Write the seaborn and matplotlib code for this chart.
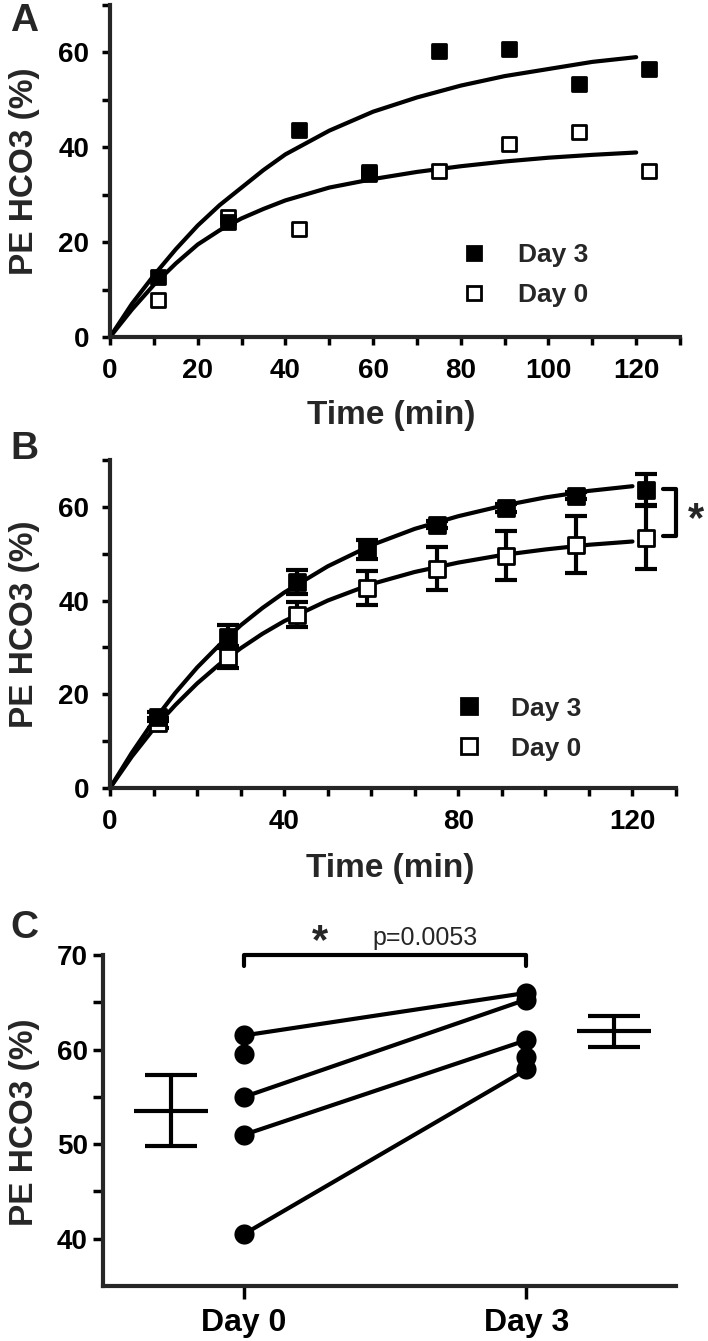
import numpy as np
import pandas as pd
import matplotlib
matplotlib.use("Agg")
import matplotlib.pyplot as plt
from matplotlib.lines import Line2D
import seaborn as sns

# ============================================
# DATA
# ============================================

# panel A - single experiment
a_time = [11, 27, 43, 59, 75, 91, 107, 123]
a_day3 = [12.6, 24.2, 43.6, 34.7, 60.2, 60.7, 53.3, 56.5]
a_day0 = [7.9, 25.4, 22.8, 34.4, 35.1, 40.6, 43.2, 35.1]

curve_time = [0, 5, 10, 15, 20, 25, 30, 35, 40, 50, 60, 70, 80, 90, 100, 110, 120]
a_fit_day3 = [0, 7.0, 13.0, 18.5, 23.5, 27.8, 31.5, 35.2, 38.5, 43.5, 47.5,
              50.5, 53.0, 55.0, 56.5, 58.0, 59.0]
a_fit_day0 = [0, 5.8, 11.0, 15.5, 19.5, 22.5, 25.0, 27.0, 28.8, 31.5, 33.3,
              34.8, 36.0, 37.0, 37.8, 38.4, 38.9]

# panel B - mean +/- SEM
b_time = [11, 27, 43, 59, 75, 91, 107, 123]
b_day3_mean = [15.2, 32.3, 44.0, 50.9, 56.2, 59.8, 62.4, 63.6]
b_day3_sem = [1.0, 2.5, 2.5, 2.1, 0.8, 0.8, 0.8, 3.3]
b_day0_mean = [13.9, 28.0, 37.0, 42.7, 46.8, 49.6, 51.9, 53.4]
b_day0_sem = [1.0, 2.3, 2.7, 3.6, 4.6, 5.3, 6.1, 6.7]

b_fit_day3 = [0, 7.5, 14.3, 20.3, 25.7, 30.4, 34.7, 38.4, 41.7, 47.3, 51.8,
              55.3, 58.0, 60.2, 62.0, 63.4, 64.4]
b_fit_day0 = [0, 6.7, 12.6, 17.7, 22.3, 26.3, 29.8, 32.9, 35.6, 40.0, 43.5,
              46.1, 48.1, 49.7, 50.9, 51.9, 52.6]

# panel C - paired subjects at 120 min
c_days = ["Day 0", "Day 3"]
c_day0 = [61.5, 59.5, 55.0, 51.0, 40.5]
c_day3 = [66.0, 59.2, 65.3, 61.0, 57.9]
c_linked = [True, False, True, True, True]
c_mean = [53.55, 61.95]
c_sem = [3.75, 1.65]
c_pvalue = "p=0.0053"

# ============================================
# STYLE
# ============================================

sns.set_style("ticks")
plt.rcParams["font.family"] = ["Liberation Sans", "DejaVu Sans"]
plt.rcParams["font.weight"] = "bold"
plt.rcParams["axes.labelweight"] = "bold"
plt.rcParams["axes.linewidth"] = 3
plt.rcParams["xtick.labelsize"] = 20
plt.rcParams["ytick.labelsize"] = 20
plt.rcParams["lines.solid_joinstyle"] = "round"
plt.rcParams["lines.solid_capstyle"] = "round"

fig = plt.figure(figsize=(7.08, 13.41), dpi=100)
axA = fig.add_axes([0.1554, 0.7487, 0.8051, 0.2476])
axB = fig.add_axes([0.1554, 0.4124, 0.7994, 0.2446])
axC = fig.add_axes([0.1455, 0.0410, 0.8093, 0.2468])

LW_CURVE = 3
MS_A = 10.5
MS_B = 12


def style_axis(ax):
    sns.despine(ax=ax)
    ax.spines["left"].set_linewidth(3)
    ax.spines["bottom"].set_linewidth(3)
    ax.tick_params(which="both", direction="out", length=6, width=2.5,
                   pad=9, colors="black")


def legend_handles(ms):
    return [
        Line2D([], [], marker="s", ls="", ms=ms, mfc="black", mec="black", mew=2),
        Line2D([], [], marker="s", ls="", ms=ms, mfc="white", mec="black", mew=2),
    ]


# ============================================
# PANEL A
# ============================================

sns.lineplot(x=curve_time, y=a_fit_day3, color="black", lw=LW_CURVE, ax=axA)
sns.lineplot(x=curve_time, y=a_fit_day0, color="black", lw=LW_CURVE, ax=axA)
sns.scatterplot(x=a_time, y=a_day0, marker="s", s=MS_A ** 2, color="white",
                edgecolor="black", linewidth=2, zorder=3, clip_on=False, ax=axA)
sns.scatterplot(x=a_time, y=a_day3, marker="s", s=MS_A ** 2, color="black",
                edgecolor="black", linewidth=2, zorder=4, clip_on=False, ax=axA)

axA.set_xlim(0, 130)
axA.set_ylim(0, 70)
axA.set_xticks(range(0, 121, 20))
axA.set_xticks(range(10, 131, 20), minor=True)
axA.set_yticks(range(0, 61, 20))
axA.set_yticks(range(10, 71, 20), minor=True)
style_axis(axA)
axA.set_xlabel("Time (min)", fontsize=24)
axA.set_ylabel("PE HCO3 (%)", fontsize=24)
axA.xaxis.set_label_coords(0.493, -0.19)
axA.yaxis.set_label_coords(-0.123, 0.5)
axA.legend(legend_handles(MS_A), ["Day 3", "Day 0"], loc="center left",
           bbox_to_anchor=(0.623, 0.187), frameon=False, fontsize=19,
           borderpad=0, borderaxespad=0, handlelength=0.7,
           handletextpad=1.3, labelspacing=0.6)

# ============================================
# PANEL B
# ============================================

sns.lineplot(x=curve_time, y=b_fit_day3, color="black", lw=LW_CURVE, ax=axB)
sns.lineplot(x=curve_time, y=b_fit_day0, color="black", lw=LW_CURVE, ax=axB)
for mean, sem in [(b_day0_mean, b_day0_sem), (b_day3_mean, b_day3_sem)]:
    axB.errorbar(b_time, mean, yerr=sem, fmt="none", ecolor="black",
                 elinewidth=3, capsize=8, capthick=3, zorder=2.5)
sns.scatterplot(x=b_time, y=b_day0_mean, marker="s", s=MS_B ** 2, color="white",
                edgecolor="black", linewidth=2, zorder=3, clip_on=False, ax=axB)
sns.scatterplot(x=b_time, y=b_day3_mean, marker="s", s=MS_B ** 2, color="black",
                edgecolor="black", linewidth=2, zorder=4, clip_on=False, ax=axB)

axB.set_xlim(0, 130)
axB.set_ylim(0, 70)
axB.set_xticks(range(0, 121, 40))
axB.set_xticks([t for t in range(10, 131, 10) if t % 40], minor=True)
axB.set_yticks(range(0, 61, 20))
axB.set_yticks(range(10, 71, 20), minor=True)
style_axis(axB)
axB.set_xlabel("Time (min)", fontsize=24)
axB.set_ylabel("PE HCO3 (%)", fontsize=24)
axB.xaxis.set_label_coords(0.495, -0.198)
axB.yaxis.set_label_coords(-0.124, 0.5)
axB.legend(legend_handles(MS_B), ["Day 3", "Day 0"], loc="center left",
           bbox_to_anchor=(0.618, 0.181), frameon=False, fontsize=19,
           borderpad=0, borderaxespad=0, handlelength=0.7,
           handletextpad=1.25, labelspacing=0.6)

# significance bracket between the last two means
top_b = b_day3_mean[-1] + 0.3
bot_b = b_day0_mean[-1] + 0.3
axB.plot([127, 130, 130, 127], [top_b, top_b, bot_b, bot_b], color="black",
         lw=3, clip_on=False)
axB.text(134.5, (top_b + bot_b) / 2 - 1.6, "*", fontsize=30, ha="center",
         va="center", clip_on=False)

# ============================================
# PANEL C
# ============================================

rows = []
for i, (d0, d3) in enumerate(zip(c_day0, c_day3)):
    rows.append({"subject": i, "pos": 0, "value": d0, "linked": c_linked[i]})
    rows.append({"subject": i, "pos": 1, "value": d3, "linked": c_linked[i]})
df_c = pd.DataFrame(rows)

sns.lineplot(data=df_c[df_c["linked"]], x="pos", y="value", units="subject",
             estimator=None, color="black", lw=3, ax=axC)
sns.scatterplot(data=df_c, x="pos", y="value", marker="o", s=14.5 ** 2,
                color="black", edgecolor="black", linewidth=0, zorder=3, ax=axC)

summary_pos = [-0.26, 1.31]
axC.errorbar(summary_pos, c_mean, yerr=c_sem, fmt="_", ms=53, mew=3,
             color="black", ecolor="black", elinewidth=3, capsize=19,
             capthick=3)

axC.set_xlim(-0.5, 1.53)
axC.set_ylim(35, 70)
axC.set_xticks([0, 1])
axC.set_xticklabels(c_days, fontsize=23)
axC.set_yticks([40, 50, 60, 70])
axC.set_yticks([45, 55, 65], minor=True)
style_axis(axC)
axC.tick_params(axis="x", length=9, pad=7)
axC.tick_params(axis="y", which="both", length=7, pad=4)
axC.set_xlabel("")
axC.set_ylabel("PE HCO3 (%)", fontsize=24)
axC.yaxis.set_label_coords(-0.11, 0.495)

# paired comparison bracket
axC.plot([0, 0, 1, 1], [68.8, 70, 70, 68.8], color="black", lw=3,
         clip_on=False)
axC.text(0.27, 71.4, "*", fontsize=30, ha="center", va="center",
         clip_on=False)
axC.text(0.64, 71.8, c_pvalue, fontsize=18, fontweight="normal",
         ha="center", va="center", clip_on=False)

# ============================================
# PANEL LETTERS
# ============================================

for letter, (px, py) in zip("ABC", [(24, 21), (24, 449), (24, 928)]):
    fig.text(px / 708, 1 - py / 1341, letter, fontsize=28, fontweight="bold",
             ha="center", va="center")

fig.savefig("out.png", dpi=100)
